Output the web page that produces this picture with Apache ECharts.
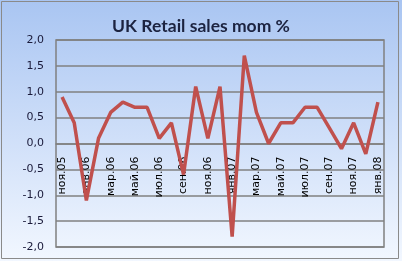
<!DOCTYPE html>
<html><head><meta charset="utf-8">
<script src="https://cdn.jsdelivr.net/npm/echarts@6/dist/echarts.min.js"></script>
<style>html,body{margin:0;padding:0;background:#fff}#c{width:402px;height:261px}</style>
</head><body><div id="c"></div>
<script>
const categories = ['ноя.05','дек.05','янв.06','фев.06','мар.06','апр.06','май.06','июн.06','июл.06','авг.06','сен.06','окт.06','ноя.06','дек.06','янв.07','фев.07','мар.07','апр.07','май.07','июн.07','июл.07','авг.07','сен.07','окт.07','ноя.07','дек.07','янв.08'];
const values = [0.9,0.4,-1.1,0.1,0.6,0.8,0.7,0.7,0.1,0.4,-0.6,1.1,0.1,1.1,-1.8,1.7,0.6,0.0,0.4,0.4,0.7,0.7,0.3,-0.1,0.4,-0.2,0.8];
const titleText = 'UK Retail sales mom %';

const chart = echarts.init(document.getElementById('c'), null, {renderer:'canvas'});
chart.setOption({
  animation:false,
  backgroundColor:{type:'linear',x:0,y:0,x2:0,y2:1,colorStops:[{offset:0,color:'#a9c5f2'},{offset:1,color:'#f2f7ff'}]},
  title:{text:titleText,left:'center',top:12,textStyle:{fontFamily:'Lato',fontWeight:'bold',fontSize:17.5,color:'#1c2340'}},
  graphic:[{type:'rect',shape:{x:1.5,y:1.5,width:397,height:257},style:{fill:'none',stroke:'#8a8a8a',lineWidth:1},silent:true}],
  grid:{left:56,right:18,top:40,bottom:14,containLabel:false,outerBoundsMode:'none',show:true,borderColor:'#808080',borderWidth:1.5,backgroundColor:'transparent'},
  xAxis:{type:'category',data:categories,boundaryGap:true,offset:-103.5,z:1,
    axisLine:{onZero:false,lineStyle:{color:'#808080',width:1.5}},
    axisTick:{show:false},
    axisLabel:{interval:1,rotate:90,margin:13,fontFamily:'DejaVu Sans',fontSize:11,color:'#000'}},
  yAxis:{type:'value',min:-2,max:2,interval:0.5,
    axisLine:{show:false},axisTick:{show:false},
    splitLine:{lineStyle:{color:'#808080',width:1.5}},
    axisLabel:{margin:12,fontFamily:'DejaVu Sans',fontSize:11,color:'#1a1a3a',formatter:v=>v.toFixed(1).replace('.',',')}},
  series:[{type:'line',data:values,symbol:'none',lineStyle:{color:'#c0504d',width:3.5},z:3}]
});
</script></body></html>
